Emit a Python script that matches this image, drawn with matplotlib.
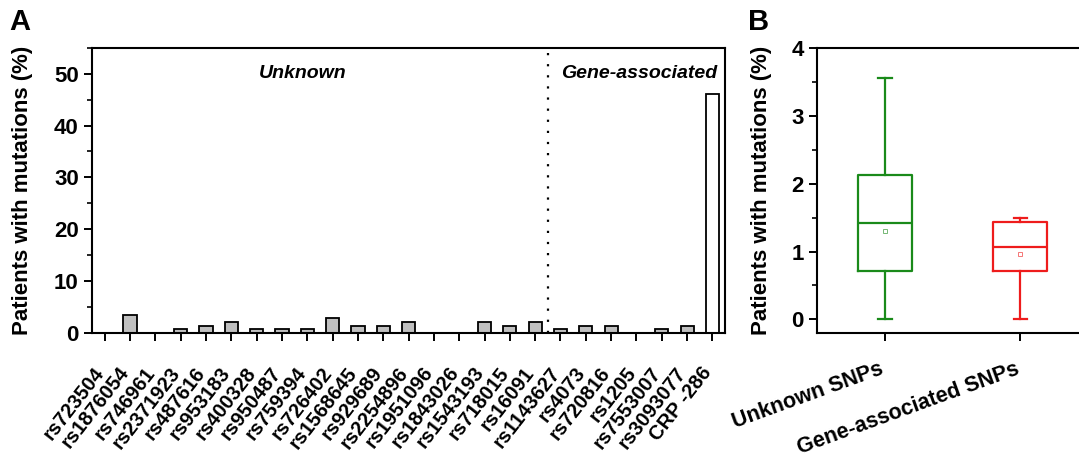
import numpy as np
import matplotlib
matplotlib.use("Agg")
import matplotlib.pyplot as plt
from matplotlib.ticker import MultipleLocator

plt.rcParams['font.family'] = ['Liberation Sans', 'DejaVu Sans']
plt.rcParams['font.weight'] = 'bold'

# Panel A data: percentage of patients with each SNP mutation
snps = ["rs723504", "rs1876054", "rs746961", "rs2371923", "rs487616", "rs953183",
        "rs400328", "rs950487", "rs759394", "rs726402", "rs1568645", "rs929689",
        "rs2254896", "rs1951096", "rs1843026", "rs1543193", "rs718015", "rs16091",
        "rs1143627", "rs4073", "rs720816", "rs1205", "rs7553007", "rs3093077",
        "CRP -286"]
percent = [0, 3.55, 0, 0.71, 1.42, 2.13,
           0.71, 0.71, 0.71, 2.84, 1.42, 1.42,
           2.13, 0, 0, 2.13, 1.42, 2.13,
           0.71, 1.42, 1.42, 0, 0.71, 1.42,
           46.1]
n_unknown = 18

# Panel B data: box statistics
groups = ["Unknown SNPs", "Gene-associated SNPs"]
box_min = [0.0, 0.0]
box_q1 = [0.71, 0.72]
box_med = [1.42, 1.07]
box_q3 = [2.13, 1.43]
box_max = [3.55, 1.50]
box_mean = [1.30, 0.96]
box_colors = ["#1a8a1a", "#ee1c1c"]

fig = plt.figure(figsize=(10.79, 4.57), dpi=100)

# ---------------- Panel A ----------------
axA = fig.add_axes([0.0853, 0.2713, 0.5867, 0.6243])
x = np.arange(len(snps))
fills = ["#c0c0c0"] * (len(snps) - 1) + ["white"]
axA.bar(x, percent, width=0.52, color=fills, edgecolor="black", linewidth=1.3)
axA.axvline(n_unknown - 0.5, color="black", linestyle=(0, (1, 4)), linewidth=1.6)
axA.set_xlim(-0.5, len(snps) - 0.5)
axA.set_ylim(0, 55)
axA.yaxis.set_major_locator(MultipleLocator(10))
axA.yaxis.set_minor_locator(MultipleLocator(5))
axA.set_xticks(x)
axA.set_xticklabels(snps, rotation=52, ha="right", va="baseline",
                    rotation_mode="anchor", fontsize=14.5, fontweight="bold")
axA.tick_params(axis="y", which="major", length=6, width=1.4, labelsize=16)
axA.tick_params(axis="y", which="minor", length=3.5, width=1.2)
axA.tick_params(axis="x", length=5.5, width=1.4, pad=23)
for lab in axA.get_yticklabels():
    lab.set_fontweight("bold")
axA.set_ylabel("Patients with mutations (%)", fontsize=16, fontweight="bold")
axA.yaxis.set_label_coords(-0.093, 0.5)
axA.text(7.8, 50, "Unknown", fontsize=14, fontweight="bold", style="italic",
         ha="center", va="center")
axA.text(21.1, 50, "Gene-associated", fontsize=14, fontweight="bold", style="italic",
         ha="center", va="center")
for s in axA.spines.values():
    s.set_linewidth(1.5)
fig.text(0.009, 0.935, "A", fontsize=21, fontweight="bold")

# ---------------- Panel B ----------------
axB = fig.add_axes([0.7572, 0.2713, 0.2512, 0.6243])
stats = []
for i in range(len(groups)):
    stats.append(dict(whislo=box_min[i], q1=box_q1[i], med=box_med[i],
                      q3=box_q3[i], whishi=box_max[i], mean=box_mean[i],
                      fliers=[], label=groups[i]))
pos = [1, 2]
for i in range(len(groups)):
    c = box_colors[i]
    axB.bxp([stats[i]], positions=[pos[i]], widths=0.4, capwidths=0.1,
            showmeans=True, showfliers=False,
            boxprops=dict(color=c, linewidth=1.6),
            whiskerprops=dict(color=c, linewidth=1.6),
            capprops=dict(color=c, linewidth=1.6),
            medianprops=dict(color=c, linewidth=1.6),
            meanprops=dict(marker="s", markersize=3.5, markerfacecolor="none",
                           markeredgecolor=c, markeredgewidth=0.7, alpha=0.6))
axB.set_xlim(0.5, 2.5)
axB.set_ylim(-0.2, 4)
axB.yaxis.set_major_locator(MultipleLocator(1))
axB.yaxis.set_minor_locator(MultipleLocator(0.5))
axB.set_xticks(pos)
axB.set_xticklabels(groups, rotation=20, ha="right", va="baseline",
                    rotation_mode="anchor", fontsize=15.5, fontweight="bold")
axB.tick_params(axis="y", which="major", length=6, width=1.4, labelsize=16)
axB.tick_params(axis="y", which="minor", length=3.5, width=1.2)
axB.tick_params(axis="x", length=5.5, width=1.4, pad=24)
for lab in axB.get_yticklabels():
    lab.set_fontweight("bold")
axB.set_ylabel("Patients with mutations (%)", fontsize=16, fontweight="bold")
axB.yaxis.set_label_coords(-0.166, 0.5)
for s in axB.spines.values():
    s.set_linewidth(1.5)
fig.text(0.693, 0.935, "B", fontsize=21, fontweight="bold")

fig.savefig("out.png", dpi=100)
